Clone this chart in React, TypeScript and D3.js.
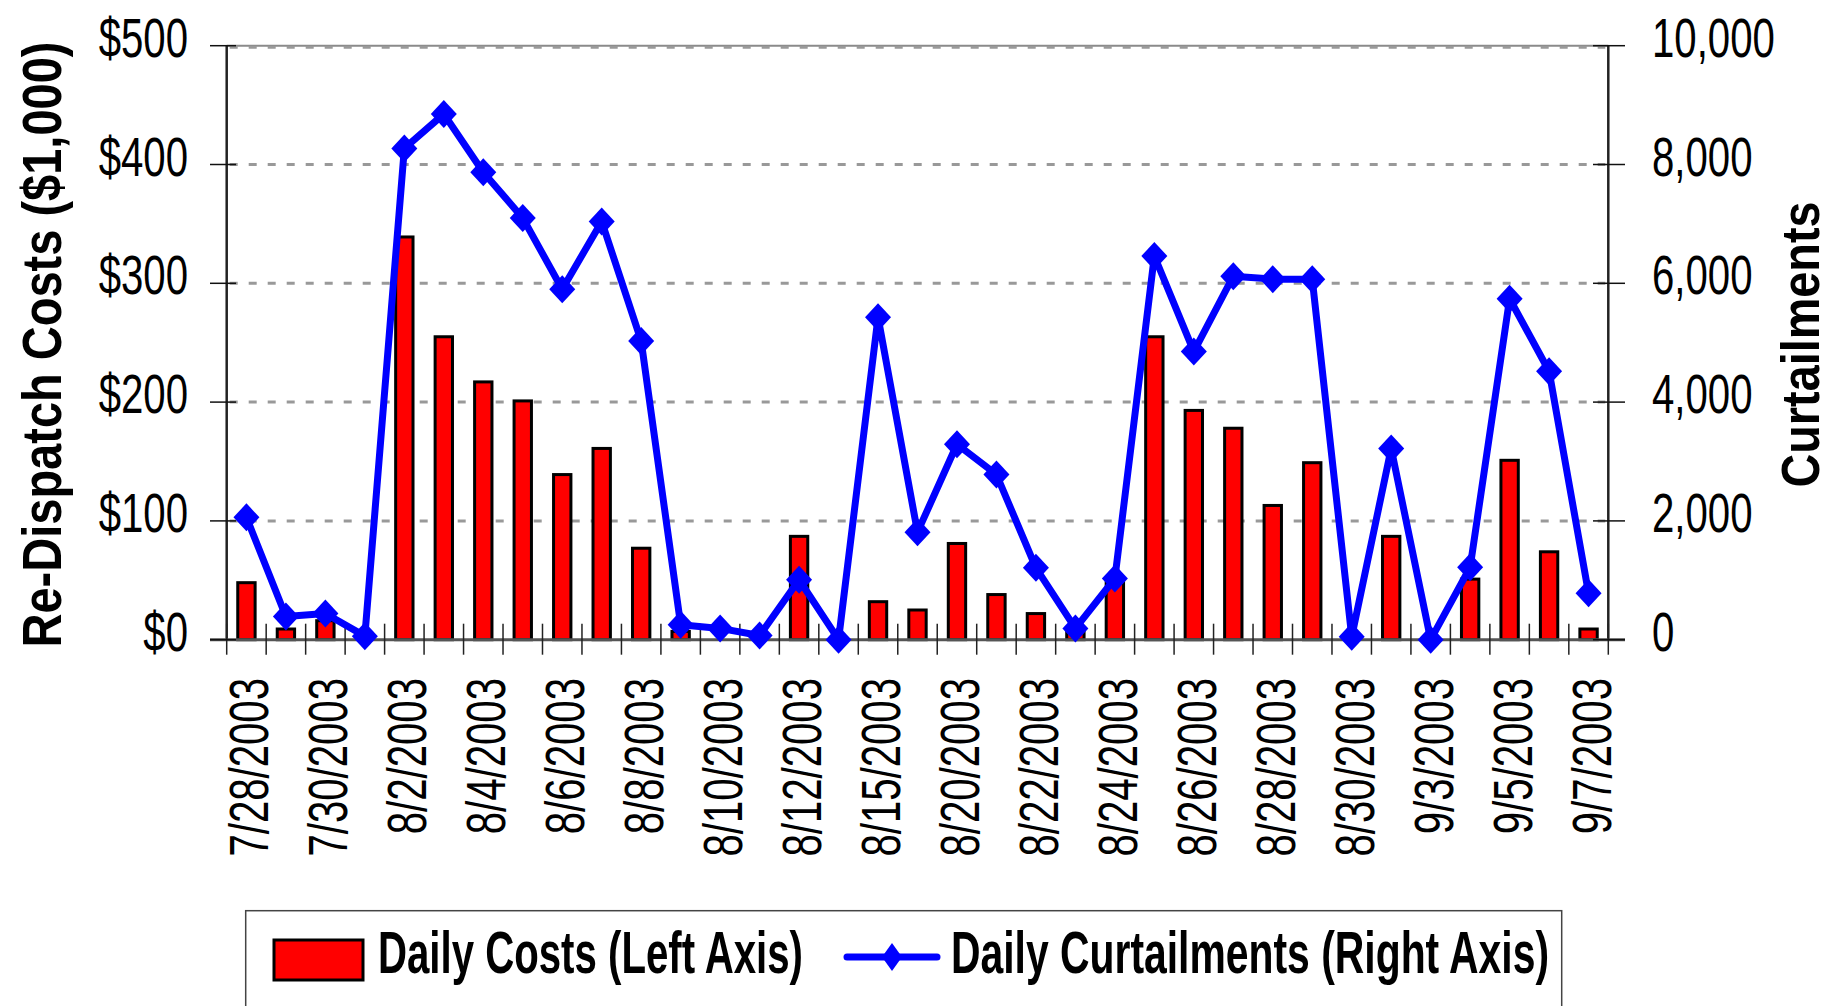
import React from "react";
import * as d3 from "d3";

const categories = ["7/28/2003","7/29/2003","7/30/2003","7/31/2003","8/2/2003","8/3/2003","8/4/2003","8/5/2003","8/6/2003","8/7/2003","8/8/2003","8/9/2003","8/10/2003","8/11/2003","8/12/2003","8/14/2003","8/15/2003","8/19/2003","8/20/2003","8/21/2003","8/22/2003","8/23/2003","8/24/2003","8/25/2003","8/26/2003","8/27/2003","8/28/2003","8/29/2003","8/30/2003","9/2/2003","9/3/2003","9/4/2003","9/5/2003","9/6/2003","9/7/2003"];
const dailyCosts = [48, 9, 16, 0, 339, 255, 217, 201, 139, 161, 77, 7, 0, 0, 87, 0, 32, 25, 81, 38, 22, 7, 48, 255, 193, 178, 113, 149, 0, 87, 0, 51, 151, 74, 9];
const dailyCurtailments = [2060, 390, 440, 60, 8270, 8850, 7870, 7100, 5900, 7040, 5030, 250, 190, 70, 1010, 0, 5430, 1810, 3290, 2780, 1210, 190, 1030, 6460, 4850, 6120, 6070, 6070, 50, 3220, 0, 1220, 5740, 4520, 780];
const leftTicks = [0, 100, 200, 300, 400, 500];
const leftTickLabels = ["$0", "$100", "$200", "$300", "$400", "$500"];
const rightTicks = [0, 2000, 4000, 6000, 8000, 10000];
const rightTickLabels = ["0", "2,000", "4,000", "6,000", "8,000", "10,000"];
const leftTitle = "Re-Dispatch Costs ($1,000)";
const rightTitle = "Curtailments";
const legendLabels = ["Daily Costs (Left Axis)", "Daily Curtailments (Right Axis)"];

const W = 1830, H = 1006;
const L = 226.7, R = 1608.3, T = 45.7, B = 639.7;
const FONT = "'Liberation Sans', Arial, sans-serif";
const SX = 0.73;

export default function App() {
  const x = d3.scaleBand<string>().domain(categories).range([L, R]).paddingInner(0.56).paddingOuter(0.28);
  const step = x.step();
  const yL = d3.scaleLinear().domain([0, 500]).range([B, T]);
  const yR = d3.scaleLinear().domain([0, 10000]).range([B, T]);
  const cx = (c: string) => (x(c) as number) + x.bandwidth() / 2;
  const line = d3.line<number>().x((d, i) => cx(categories[i])).y((d) => yR(d));
  const diamond = (hw: number, hh: number) => `M0,${-hh}L${hw},0L0,${hh}L${-hw},0Z`;
  const boundaries = d3.range(categories.length + 1).map((i) => L + i * step);

  return (
    <svg width={W} height={H} style={{ position: "absolute", left: 0, top: 0, background: "#fff" }} fontFamily={FONT}>
      <rect x={0} y={0} width={W} height={H} fill="#fff" />
      {/* top border */}
      <line x1={L} x2={R} y1={T} y2={T} stroke="#8a8a8a" strokeWidth={2} />
      {/* gridlines */}
      {leftTicks.filter((t) => t > 0).map((t) => (
        <line key={"g" + t} x1={L + 3} x2={R - 3} y1={yL(t) + (t === 500 ? 1.5 : 0)} y2={yL(t) + (t === 500 ? 1.5 : 0)} stroke="#999" strokeWidth={3} strokeDasharray="8 11" />
      ))}
      {/* bars */}
      {categories.map((c, i) => dailyCosts[i] > 0 && (
        <rect key={"b" + i} x={x(c)} y={yL(dailyCosts[i])} width={x.bandwidth()} height={B - yL(dailyCosts[i])} fill="#ff0000" stroke="#000" strokeWidth={3} />
      ))}
      {/* axes */}
      <line x1={L} x2={L} y1={T} y2={B} stroke="#222" strokeWidth={2.5} />
      <line x1={R} x2={R} y1={T} y2={B} stroke="#222" strokeWidth={2.5} />
      <line x1={210} x2={1625} y1={B} y2={B} stroke="#555" strokeWidth={3} />
      {boundaries.map((bx, i) => (
        <line key={"xt" + i} x1={bx} x2={bx} y1={B - 16} y2={B + 15} stroke="#222" strokeWidth={1.5} />
      ))}
      {leftTicks.map((t) => (
        <line key={"lt" + t} x1={210} x2={236} y1={yL(t)} y2={yL(t)} stroke="#111" strokeWidth={1.5} />
      ))}
      {rightTicks.map((t) => (
        <line key={"rt" + t} x1={1593} x2={1625} y1={yR(t)} y2={yR(t)} stroke="#111" strokeWidth={1.5} />
      ))}
      {/* curtailment line */}
      <path d={line(dailyCurtailments) || ""} fill="none" stroke="#0000ff" strokeWidth={7} strokeLinejoin="round" />
      {categories.map((c, i) => (
        <path key={"d" + i} d={diamond(13, 14)} transform={`translate(${cx(c)},${yR(dailyCurtailments[i])})`} fill="#0000ff" />
      ))}
      {/* left tick labels */}
      {leftTicks.map((t, i) => (
        <text key={"ll" + t} transform={`translate(188,${yL(t) + 11}) scale(${SX},1)`} textAnchor="end" fontSize={55} fill="#000">{leftTickLabels[i]}</text>
      ))}
      {rightTicks.map((t, i) => (
        <text key={"rl" + t} transform={`translate(1652,${yR(t) + 11}) scale(${SX},1)`} textAnchor="start" fontSize={55} fill="#000">{rightTickLabels[i]}</text>
      ))}
      {/* x labels */}
      {categories.map((c, i) => i % 2 === 0 && (
        <text key={"xl" + i} transform={`translate(${cx(c) + 22},678) rotate(-90) scale(${SX},1)`} textAnchor="end" fontSize={55} fill="#000">{c}</text>
      ))}
      {/* titles */}
      <text transform={`translate(61,344.5) rotate(-90)`} textAnchor="middle" fontSize={55} fontWeight="bold" textLength={606} lengthAdjust="spacingAndGlyphs">{leftTitle}</text>
      <text transform={`translate(1819,344.5) rotate(-90)`} textAnchor="middle" fontSize={54} fontWeight="bold" textLength={286} lengthAdjust="spacingAndGlyphs">{rightTitle}</text>
      {/* legend */}
      <rect x={245.7} y={910.7} width={1316} height={120} fill="#fff" stroke="#444" strokeWidth={1.5} />
      <rect x={274} y={940} width={89} height={40} fill="#ff0000" stroke="#000" strokeWidth={3} />
      <text x={378} y={972.7} fontSize={60} fontWeight="bold" textLength={425} lengthAdjust="spacingAndGlyphs">{legendLabels[0]}</text>
      <line x1={847} x2={937} y1={957} y2={957} stroke="#0000ff" strokeWidth={7} strokeLinecap="round" />
      <path d={diamond(10, 14)} transform="translate(892,957)" fill="#0000ff" />
      <text x={951} y={972.7} fontSize={60} fontWeight="bold" textLength={598} lengthAdjust="spacingAndGlyphs">{legendLabels[1]}</text>
    </svg>
  );
}
